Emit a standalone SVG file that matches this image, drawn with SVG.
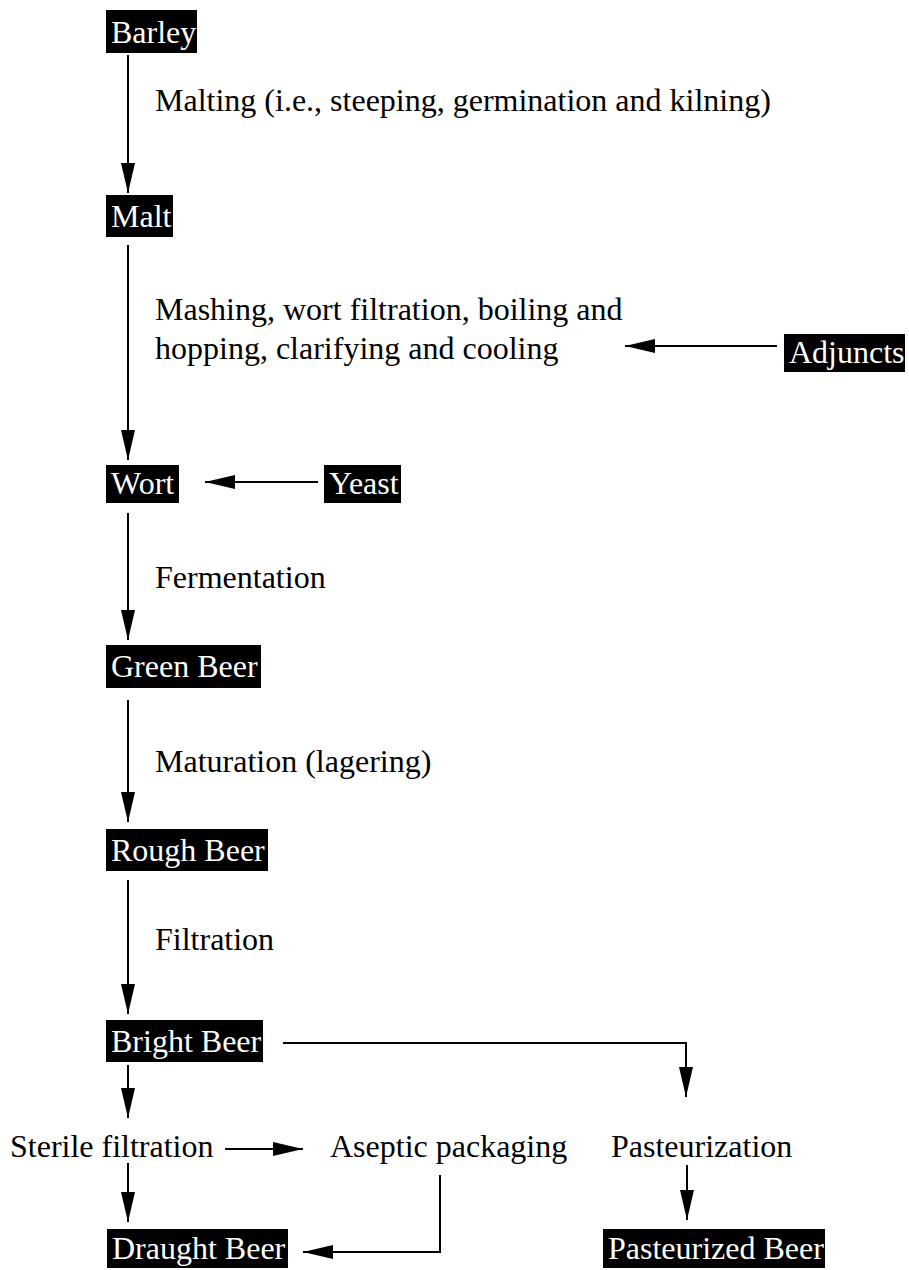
<svg xmlns="http://www.w3.org/2000/svg" width="909" height="1270" viewBox="0 0 909 1270">
<defs>
<style>
.box{fill:#000}
.bt{fill:#fff;font-family:"Liberation Serif","Times New Roman",serif;font-size:32px}
.lb{fill:#000;font-family:"Liberation Serif","Times New Roman",serif;font-size:32px}
.cn{fill:none;stroke:#000;stroke-width:2;marker-end:url(#ah)}
</style>
<marker id="ah" markerUnits="userSpaceOnUse" markerWidth="30" markerHeight="14" refX="30" refY="7" orient="auto">
<path d="M0,0 L30,7 L0,14 z" fill="#000"/>
</marker>
</defs>
<rect width="909" height="1270" fill="#fff"/>
<g id="connectors">
<path class="cn" d="M128,55 V193"/>
<path class="cn" d="M128,245 V460"/>
<path class="cn" d="M777,346 H625"/>
<path class="cn" d="M318,482 H205"/>
<path class="cn" d="M128,513 V640"/>
<path class="cn" d="M128,700 V822"/>
<path class="cn" d="M128,880 V1014"/>
<path class="cn" d="M128,1065 V1118"/>
<path class="cn" d="M283,1043 H686 V1097"/>
<path class="cn" d="M225,1149 H303"/>
<path class="cn" d="M128,1163 V1222"/>
<path class="cn" d="M440,1175 V1252 H303"/>
<path class="cn" d="M687,1165 V1220"/>
</g>
<g id="barley"><rect class="box" x="106" y="10" width="91" height="43"/><text class="bt" x="111" y="43">Barley</text></g>
<g id="malt"><rect class="box" x="106" y="195" width="67" height="42"/><text class="bt" x="111" y="227">Malt</text></g>
<g id="adjuncts"><rect class="box" x="784" y="334" width="121" height="38"/><text class="bt" x="789" y="363">Adjuncts</text></g>
<g id="wort"><rect class="box" x="106" y="465" width="73" height="38"/><text class="bt" x="111" y="494">Wort</text></g>
<g id="yeast"><rect class="box" x="324" y="465" width="77" height="38"/><text class="bt" x="329" y="494">Yeast</text></g>
<g id="green-beer"><rect class="box" x="106" y="645" width="155" height="43"/><text class="bt" x="111" y="677">Green Beer</text></g>
<g id="rough-beer"><rect class="box" x="106" y="829" width="162" height="42"/><text class="bt" x="111" y="861">Rough Beer</text></g>
<g id="bright-beer"><rect class="box" x="106" y="1020" width="157" height="42"/><text class="bt" x="111" y="1052">Bright Beer</text></g>
<g id="draught-beer"><rect class="box" x="107" y="1229" width="181" height="39"/><text class="bt" x="112" y="1259">Draught Beer</text></g>
<g id="pasteurized-beer"><rect class="box" x="603" y="1229" width="222" height="39"/><text class="bt" x="608" y="1259">Pasteurized Beer</text></g>
<g id="labels">
<text class="lb" x="155" y="111">Malting (i.e., steeping, germination and kilning)</text>
<text class="lb" x="155" y="320">Mashing, wort filtration, boiling and</text>
<text class="lb" x="155" y="359">hopping, clarifying and cooling</text>
<text class="lb" x="155" y="588">Fermentation</text>
<text class="lb" x="155" y="772">Maturation (lagering)</text>
<text class="lb" x="155" y="950">Filtration</text>
</g>
<g id="sterile-filtration"><text class="lb" x="10" y="1157">Sterile filtration</text></g>
<g id="aseptic-packaging"><text class="lb" x="330" y="1157">Aseptic packaging</text></g>
<g id="pasteurization"><text class="lb" x="611" y="1157">Pasteurization</text></g>
</svg>
